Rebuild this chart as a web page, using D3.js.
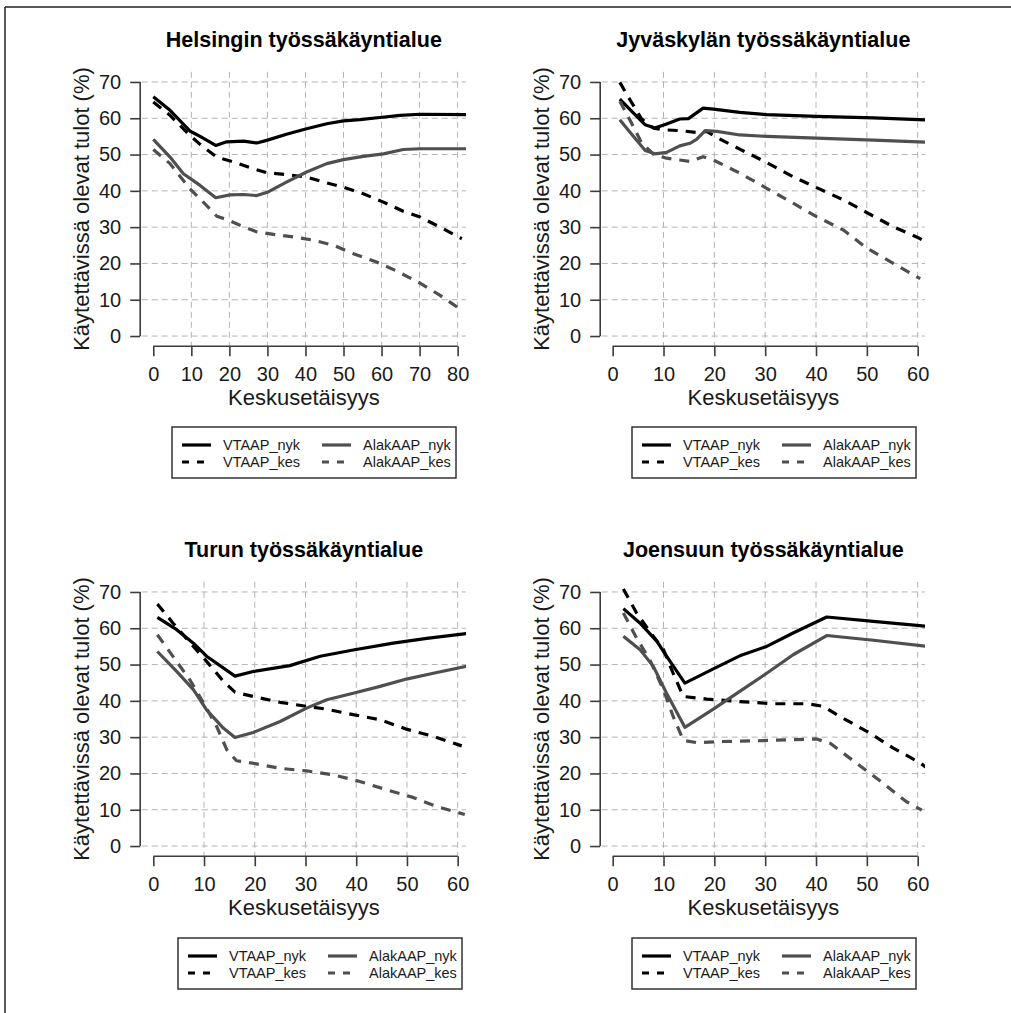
<!DOCTYPE html>
<html><head><meta charset="utf-8">
<script src="https://cdn.jsdelivr.net/npm/d3@7"></script>
<style>
html,body{margin:0;padding:0;background:#fff;}
svg text{font-family:"Liberation Sans",Arial,Helvetica,sans-serif;}
</style></head>
<body>
<svg id="chart" width="1011" height="1013"></svg>
<script>
// ---- data ----
const panelTitles = ["Helsingin työssäkäyntialue","Jyväskylän työssäkäyntialue","Turun työssäkäyntialue","Joensuun työssäkäyntialue"];
const seriesNames = ["VTAAP_nyk","VTAAP_kes","AlakAAP_nyk","AlakAAP_kes"];
const yTicks = [0,10,20,30,40,50,60,70];
const xTicksHel = [0,10,20,30,40,50,60,70,80];
const xTicks60 = [0,10,20,30,40,50,60];
const xLabel = "Keskusetäisyys";
const yLabel = "Käytettävissä olevat tulot (%)";

// Helsinki
const hel_VTAAP_nyk = [[0,65.9],[4.4,62.2],[9.6,56.5],[12.3,55],[16.4,52.5],[19.3,53.5],[23.7,53.7],[27.2,53.2],[29.8,53.9],[35,55.6],[40.3,57.1],[45.6,58.5],[50,59.3],[54.3,59.6],[59.6,60.2],[64.9,60.8],[70.1,61.1],[83,61.0]];
const hel_VTAAP_kes = [[0,64.5],[4.4,60.8],[9.6,55.3],[12.3,52.8],[16.7,49.3],[21,48],[26.3,46.1],[29.8,45],[35,44.5],[40.3,43.8],[45.6,42.2],[50,41],[55.2,39.2],[60.5,36.9],[65.7,34.4],[70.1,32.8],[75.4,30],[81.1,26.8]];
const hel_AlakAAP_nyk = [[0,54.2],[4.4,49.3],[7.9,44.7],[12.3,41.5],[16.4,38.1],[20.2,38.9],[23.7,39],[27.2,38.7],[30.2,39.7],[35,42.4],[40.3,45.2],[45.6,47.5],[50,48.6],[55.2,49.5],[60.5,50.2],[65.7,51.4],[70.1,51.6],[83,51.6]];
const hel_AlakAAP_kes = [[0,51.4],[4.4,47.5],[9.6,40.6],[12.3,37.8],[16.7,33],[19.3,32.1],[22.8,30.5],[27.2,28.7],[31.6,28],[36.8,27.3],[42.1,26.4],[47.4,25],[52.6,22.7],[58.7,20.4],[64,17.9],[70.1,14.6],[75.4,11.2],[81.1,7.1]];

// Jyväskylä
const jyv_VTAAP_nyk = [[1.4,65.3],[4.1,61.4],[6.4,58.2],[8.3,57.3],[10.6,58.4],[13.2,59.8],[14.9,59.9],[17.8,62.8],[19.8,62.5],[25,61.6],[30.3,61],[40.1,60.5],[51.3,60.1],[62,59.5]];
const jyv_VTAAP_kes = [[1.4,69.9],[3.4,65.1],[5.7,59.8],[8,57.3],[10.3,56.8],[13.2,56.6],[16.5,56.1],[18.5,56.4],[20.5,54.7],[25,51.5],[30.3,47.8],[35.5,43.9],[40.1,40.9],[45.4,37.5],[50,34],[55.2,30.1],[60.1,27.1],[62,25.6]];
const jyv_AlakAAP_nyk = [[1.4,59.6],[4.1,55],[6.4,51.1],[8.3,50.2],[10.6,50.6],[13.2,52.4],[15.2,53.1],[16.5,54.2],[18.2,56.6],[20.5,56.4],[25,55.4],[30.3,55],[40.1,54.5],[51.3,54],[62,53.4]];
const jyv_AlakAAP_kes = [[1.4,64.7],[3.7,58.7],[5.7,53.2],[8,50.1],[10.6,49],[13.2,48.5],[15.2,48.1],[17.8,49.4],[19.8,48.5],[25,44.9],[30.3,40.7],[35.5,36.6],[40.1,32.9],[45.4,29.2],[50,24.2],[55.2,20],[60.5,15.8]];

// Turku
const tur_VTAAP_nyk = [[0.8,63],[4.6,59.6],[7.9,55.9],[10.5,52.3],[16.1,46.8],[19.7,48.1],[26.9,49.7],[32.9,52.3],[39.4,54],[47.3,55.9],[53.9,57.2],[62,58.6]];
const tur_VTAAP_kes = [[0.8,66.7],[3.9,61.4],[7.9,55],[10.8,50.4],[13.8,45.4],[16.1,42.4],[19.7,41.2],[25,39.6],[30.2,38.5],[34.2,37.7],[39.4,36.2],[44.7,34.8],[49.9,32.2],[55.2,30.2],[60.8,27.6]];
const tur_AlakAAP_nyk = [[0.8,53.6],[4.6,48.1],[7.9,43.1],[10.5,37.5],[13.8,32.5],[16.1,29.9],[19.7,31.3],[25,34.3],[30.2,38],[34.2,40.3],[39.4,42.1],[44.7,44],[49.9,46],[55.2,47.6],[62,49.6]];
const tur_AlakAAP_kes = [[0.8,58.2],[3.9,52.2],[7.2,45.8],[9.9,39.4],[12.5,32.9],[14.5,26.5],[16.4,23.5],[19.7,22.8],[25,21.4],[30.2,20.7],[35.5,19.6],[40.7,17.8],[46,15.5],[51.2,13.4],[55.8,10.9],[61.4,8.7]];

// Joensuu
const joe_VTAAP_nyk = [[2.1,65.4],[5.4,61.4],[8.7,56.4],[10.6,52.3],[14.2,44.9],[19.8,48.8],[25,52.4],[30.3,55],[35.5,58.7],[42.1,63.1],[51.3,61.9],[62,60.5]];
const joe_VTAAP_kes = [[2.1,70.8],[4.7,64.2],[7.3,59.1],[10,54.1],[11.9,47.6],[13.9,41.2],[18.5,40.5],[25,39.8],[31.6,39.2],[38.2,39.2],[41.4,38.5],[44.7,35.7],[50,31.6],[55.2,27],[60.5,22.9],[62,21.3]];
const joe_AlakAAP_nyk = [[2.1,57.8],[5.4,54.1],[8,49.5],[10.6,42.1],[14.2,32.7],[19.8,37.7],[25,42.6],[30.3,47.6],[35.5,52.7],[42.1,58],[51.3,56.7],[62,55]];
const joe_AlakAAP_kes = [[2.1,64.2],[4.7,57.3],[7.3,51.3],[10,43],[11.9,35.7],[13.9,29.1],[16.5,28.5],[21.8,28.8],[28.3,29],[34.9,29.3],[40.1,29.5],[42.8,28.3],[48,22.8],[53.2,17.3],[57.8,12.2],[60.8,9.9]];

const panelSeries = [
  [hel_VTAAP_nyk, hel_VTAAP_kes, hel_AlakAAP_nyk, hel_AlakAAP_kes],
  [jyv_VTAAP_nyk, jyv_VTAAP_kes, jyv_AlakAAP_nyk, jyv_AlakAAP_kes],
  [tur_VTAAP_nyk, tur_VTAAP_kes, tur_AlakAAP_nyk, tur_AlakAAP_kes],
  [joe_VTAAP_nyk, joe_VTAAP_kes, joe_AlakAAP_nyk, joe_AlakAAP_kes]
];
const panelXTicks = [xTicksHel, xTicks60, xTicks60, xTicks60];
const panelXlim = [[-3.05,82.2],[-2.16,61.44],[-2.29,61.64],[-2.16,61.44]];
const yLim = [-2.8,72.8];

// ---- styles/layout ----
const seriesColor = ["#000000","#000000","#4f4f4f","#4f4f4f"];
const seriesDash = [null,"10,8",null,"10,8"];
const colX = [[141.7,466],[601.7,925]];
const rowY = [[71.8,346.2],[581.8,856.2]];
const legendBox = [[172,427],[632,427],[178,938],[632,938]];

const svg = d3.select("#chart");
// figure border (top & left)
svg.append("line").attr("x1",5).attr("y1",7).attr("x2",1011).attr("y2",7).attr("stroke","#222").attr("stroke-width",1.5);
svg.append("line").attr("x1",5).attr("y1",7).attr("x2",5).attr("y2",1013).attr("stroke","#222").attr("stroke-width",1.5);

const axisCol = "#3c3c3c";
panelTitles.forEach((title,i)=>{
  const c = i%2, r = Math.floor(i/2);
  const [x0,x1] = colX[c], [y0,y1] = rowY[r];
  const xs = d3.scaleLinear().domain(panelXlim[i]).range([x0,x1]);
  const ys = d3.scaleLinear().domain(yLim).range([y1,y0]);
  const g = svg.append("g");
  const cid = "clip"+i;
  svg.append("clipPath").attr("id",cid).append("rect").attr("x",x0).attr("y",y0).attr("width",x1-x0).attr("height",y1-y0);

  // grid
  const gridG = g.append("g").attr("stroke","#b4b4b4").attr("stroke-width",1).attr("stroke-dasharray","6,4");
  yTicks.forEach(t=>{
    gridG.append("line").attr("x1",x0).attr("x2",x1).attr("y1",ys(t)).attr("y2",ys(t));
  });
  panelXTicks[i].filter(t=>t>0).forEach(t=>{
    gridG.append("line").attr("x1",xs(t)).attr("x2",xs(t)).attr("y1",y0).attr("y2",y1);
  });

  // series
  const line = d3.line().x(d=>xs(d[0])).y(d=>ys(d[1])).curve(d3.curveLinear);
  const lg = g.append("g").attr("clip-path",`url(#${cid})`);
  panelSeries[i].forEach((s,k)=>{
    lg.append("path").attr("d",line(s)).attr("fill","none")
      .attr("stroke",seriesColor[k]).attr("stroke-width",3.2)
      .attr("stroke-dasharray",seriesDash[k]).attr("stroke-linejoin","round");
  });

  // y axis
  const yAx = d3.axisLeft(ys).tickValues(yTicks).tickSize(10).tickPadding(9).tickSizeOuter(0);
  const ya = g.append("g").attr("transform",`translate(${x0-1.5},0)`).call(yAx);
  ya.select(".domain").attr("d",`M0,${ys(0)}V${ys(70)}`);
  // x axis
  const xt = panelXTicks[i];
  const xAx = d3.axisBottom(xs).tickValues(xt).tickSize(10).tickPadding(11).tickSizeOuter(0);
  const xa = g.append("g").attr("transform",`translate(0,${y1})`).call(xAx);
  xa.select(".domain").attr("d",`M${xs(xt[0])},0H${xs(xt[xt.length-1])}`);
  [ya,xa].forEach(a=>{
    a.select(".domain").attr("stroke",axisCol).attr("stroke-width",1.6);
    a.selectAll(".tick line").attr("stroke",axisCol).attr("stroke-width",1.6);
    a.selectAll(".tick text").attr("fill","#1a1a1a").attr("font-size",20).attr("font-family","Liberation Sans, Arial, sans-serif");
  });

  // titles
  const cx = (x0+x1)/2;
  g.append("text").attr("x",cx).attr("y",y0-25).attr("text-anchor","middle")
    .attr("font-size",21.5).attr("font-weight","bold").attr("fill","#000").text(title);
  g.append("text").attr("x",cx).attr("y",y1+59).attr("text-anchor","middle")
    .attr("font-size",22).attr("fill","#1a1a1a").text(xLabel);
  g.append("text").attr("transform",`translate(${x0-53},${(ys(0)+ys(70))/2}) rotate(-90)`)
    .attr("text-anchor","middle").attr("font-size",22).attr("fill","#1a1a1a").text(yLabel);

  // legend
  const [lx,ly] = legendBox[i];
  const lgd = g.append("g").attr("transform",`translate(${lx},${ly})`);
  lgd.append("rect").attr("x",0).attr("y",0).attr("width",284).attr("height",51)
    .attr("fill","#fff").attr("stroke","#333").attr("stroke-width",1.5);
  seriesNames.forEach((name,k)=>{
    const col = Math.floor(k/2), row = k%2;
    const ox = col===0 ? 10 : 150, oy = row===0 ? 18 : 35;
    lgd.append("line").attr("x1",ox).attr("x2",ox+29).attr("y1",oy).attr("y2",oy)
      .attr("stroke",seriesColor[k]).attr("stroke-width",3.2).attr("stroke-dasharray",seriesDash[k]?"7,8":null);
    lgd.append("text").attr("x",ox+41).attr("y",oy+5).attr("font-size",14.5).attr("fill","#1a1a1a").text(name);
  });
});
</script>
</body></html>
